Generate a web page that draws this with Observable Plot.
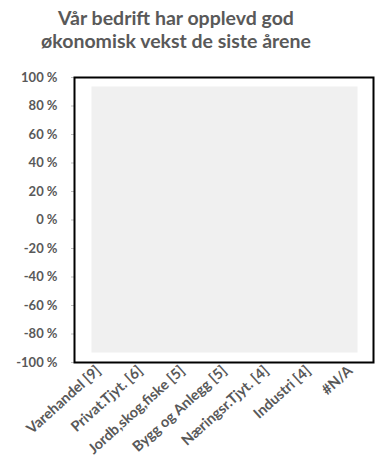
<!DOCTYPE html>
<html><head><meta charset="utf-8">
<script src="https://cdn.jsdelivr.net/npm/d3@7"></script>
<script src="https://cdn.jsdelivr.net/npm/@observablehq/plot@0.6"></script>
<style>
body{margin:0;background:#fff;font-family:Lato,sans-serif;}
#title{width:378px;height:60px;box-sizing:border-box;padding-top:6px;padding-right:26px;text-align:center;font-weight:bold;font-size:19.5px;line-height:23px;color:#595959;}
</style></head><body>
<div id="title">Vår bedrift har opplevd god<br>økonomisk vekst de siste årene</div>
<div id="chart"></div>
<script>
const categories = ["Varehandel [9]", "Privat.Tjyt. [6]", "Jordb,skog,fiske [5]", "Bygg og Anlegg [5]", "Næringsr.Tjyt. [4]", "Industri [4]", "#N/A"];
const values = [null, null, null, null, null, null, null];
const yTicks = [-1, -0.8, -0.6, -0.4, -0.2, 0, 0.2, 0.4, 0.6, 0.8, 1];
const data = categories.map((c, i) => ({category: c, value: values[i]}));
const fmt = d => `${Math.round(d * 100) || 0} %`;
const plot = Plot.plot({
  width: 378, height: 408,
  marginTop: 17, marginBottom: 106, marginLeft: 74, marginRight: 5,
  style: {fontFamily: "Lato, sans-serif", fontSize: "13px", fontWeight: "bold", color: "#595959", background: "#fff"},
  x: {type: "band", domain: categories, padding: 0, label: null},
  y: {domain: [-1, 1], label: null},
  marks: [
    Plot.frame({fill: "#f0f0f0", stroke: null, insetLeft: 17, insetRight: 16, insetTop: 9, insetBottom: 10}),
    Plot.barY(data, {x: "category", y: "value", fill: "#4472c4"}),
    Plot.axisY({ticks: yTicks, tickFormat: fmt, tickSize: 3, tickPadding: 14, stroke: "#bfbfbf", fill: "#595959", label: null}),
    Plot.axisX({tickRotate: -42, tickSize: 0, tickPadding: 6, fill: "#595959", label: null, fontSize: 14.5}),
    Plot.frame({stroke: "#000", strokeWidth: 2})
  ]
});
document.getElementById("chart").appendChild(plot);
</script>
</body></html>
